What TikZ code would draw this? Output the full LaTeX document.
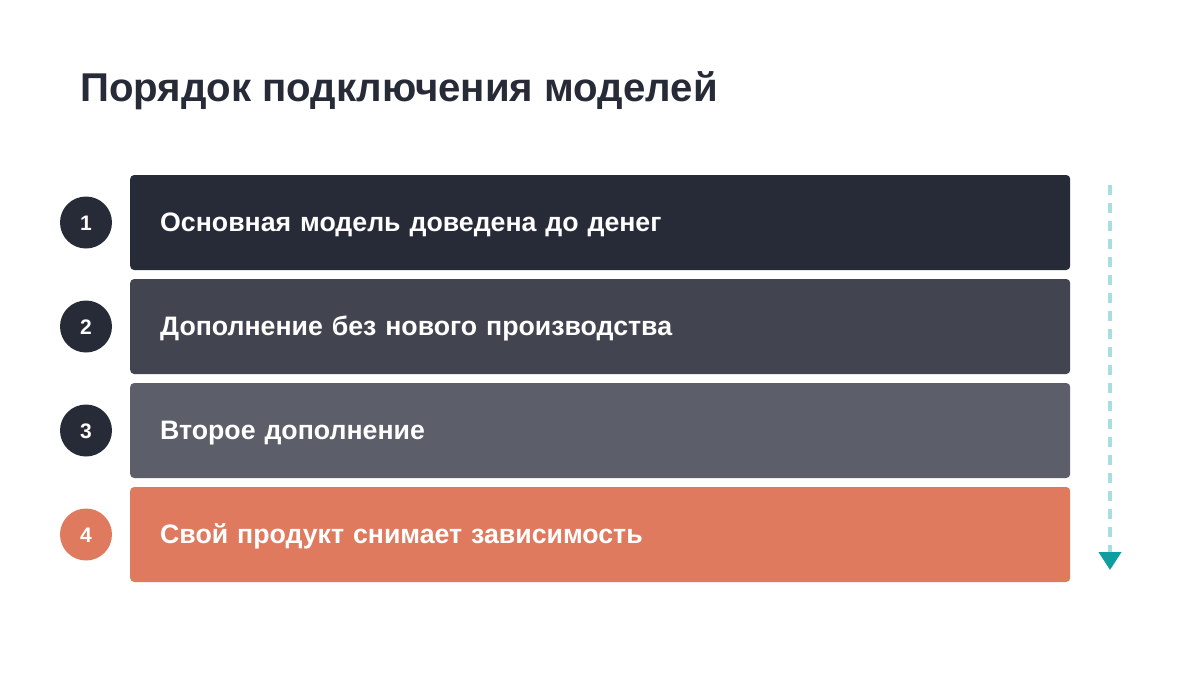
\documentclass[tikz,border=0pt]{standalone}
\usepackage{fontspec}
\setmainfont{Liberation Sans}
\usetikzlibrary{arrows.meta}
\definecolor{ink}{HTML}{272B37}
\definecolor{slate}{HTML}{424450}
\definecolor{ash}{HTML}{5C5E6A}
\definecolor{coral}{HTML}{E07A5F}
\definecolor{mint}{HTML}{A8DEDF}
\definecolor{teal}{HTML}{0E9E9F}
\begin{document}
\begin{tikzpicture}[x=1pt,y=-1pt,
	bar/.style={rounded corners=4pt, minimum width=940pt, minimum height=95pt, inner xsep=30pt, inner ysep=0pt,
		text width=880pt, align=left, text height=18.5pt, text depth=0pt, text=white,
		font=\bfseries\fontsize{26.7}{30}\selectfont, anchor=west},
	num/.style={circle, minimum size=52pt, inner sep=0pt, text=white, text height=15pt, text depth=0pt,
		font=\bfseries\fontsize{21}{24}\selectfont},
	flow/.style={mint, line width=4pt, dash pattern=on 10pt off 8pt, -{Triangle[length=18pt,width=22pt,color=teal]}}]
		\fill[white] (0,0) rectangle (1200,675);
		\node[anchor=base west, inner sep=0pt, text=ink, font=\bfseries\fontsize{40.2}{46}\selectfont] (title) at (80,101) {Порядок подключения моделей};
		
		\node[bar, fill=ink] (bar1) at (130,222.5) {Основная модель доведена до денег}; \node[num, fill=ink] (num1) at (86,222.5) {1};
		\node[bar, fill=slate] (bar2) at (130,326.5) {Дополнение без нового производства}; \node[num, fill=ink] (num2) at (86,326.5) {2};
		\node[bar, fill=ash] (bar3) at (130,430.5) {Второе дополнение}; \node[num, fill=ink] (num3) at (86,430.5) {3};
		\node[bar, fill=coral] (bar4) at (130,534.5) {Свой продукт снимает зависимость}; \node[num, fill=coral] (num4) at (86,534.5) {4};
		
		\coordinate (flowtop) at (1110,185); \coordinate (flowend) at (1110,570);
		\draw[flow] (flowtop) -- (flowend);
\end{tikzpicture}
\end{document}
